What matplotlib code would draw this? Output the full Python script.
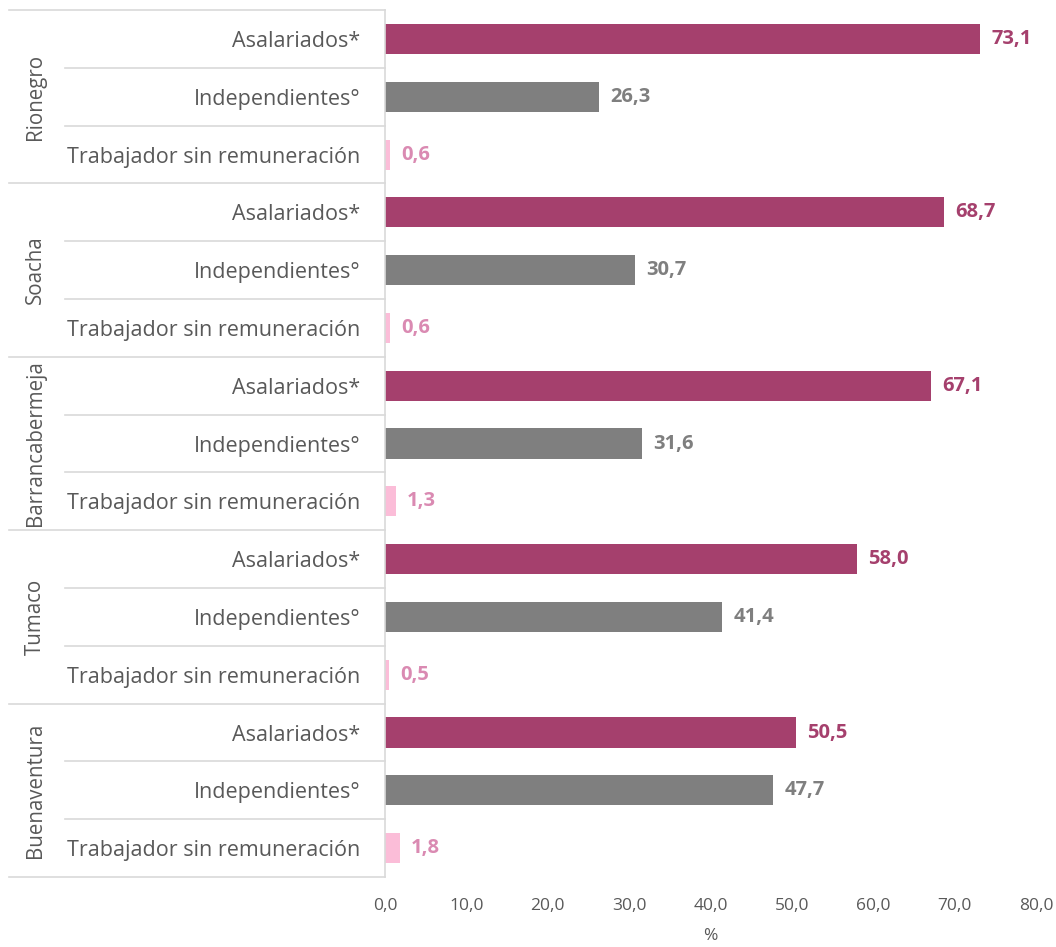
import numpy as np
import matplotlib
matplotlib.use("Agg")
import matplotlib.pyplot as plt
import matplotlib.transforms as mtransforms

plt.rcParams['font.family'] = ['Open Sans', 'DejaVu Sans']

# Datos
ciudades = ["Rionegro", "Soacha", "Barrancabermeja", "Tumaco", "Buenaventura"]
categorias = ["Asalariados*", "Independientes°", "Trabajador sin remuneración"]
asalariados = [73.1, 68.7, 67.1, 58.0, 50.5]
independientes = [26.3, 30.7, 31.6, 41.4, 47.7]
sin_remuneracion = [0.6, 0.6, 1.3, 0.5, 1.8]

colores_barra = ["#A5406D", "#7F7F7F", "#FBBDD8"]
colores_texto = ["#A5406D", "#7F7F7F", "#DA8AB2"]
gris_texto = "#595959"
gris_linea = "#D9D9D9"

series = [asalariados, independientes, sin_remuneracion]

fig = plt.figure(figsize=(10.56, 9.47), dpi=100)
ax = fig.add_axes([0.3646, 0.0739, 0.6165, 0.9155])

n_cat = len(categorias)
etiquetas = []
for i, ciudad in enumerate(ciudades):
    for j in range(n_cat):
        y = i * n_cat + j
        v = series[j][i]
        ax.barh(y, v, height=0.52, color=colores_barra[j])
        ax.text(v + 1.4, y, f"{v:.1f}".replace(".", ","), va="center", ha="left",
                fontsize=14.5, fontweight="bold", color=colores_texto[j])
        etiquetas.append(categorias[j])

total = len(ciudades) * n_cat
ax.set_ylim(total - 0.5, -0.5)
ax.set_xlim(0, 80)
ax.set_yticks(range(total))
ax.set_yticklabels(etiquetas, fontsize=15.5, color=gris_texto)
ax.set_xticks(np.arange(0, 81, 10))
ax.set_xticklabels([f"{t:.1f}".replace(".", ",") for t in np.arange(0, 81, 10)],
                   fontsize=12.5, color=gris_texto)
ax.tick_params(axis="y", length=0, pad=18)
ax.tick_params(axis="x", length=0, pad=15)
ax.set_xlabel("%", fontsize=12.5, color=gris_texto, labelpad=10)

for s in ["top", "right", "bottom"]:
    ax.spines[s].set_visible(False)
ax.spines["left"].set_color(gris_linea)
ax.spines["left"].set_linewidth(1.2)

# lineas separadoras fuera del area
trans = mtransforms.blended_transform_factory(ax.transAxes, ax.transData)
for k in range(total + 1):
    yb = k - 0.5
    x0 = -0.578 if k % n_cat == 0 else -0.4916
    ax.plot([x0, 0], [yb, yb], color=gris_linea, lw=1.2, transform=trans, clip_on=False)

for i, ciudad in enumerate(ciudades):
    yc = i * n_cat + (n_cat - 1) / 2
    ax.text(-0.5376, yc, ciudad, rotation=90, va="center", ha="center",
            fontsize=14.8, color=gris_texto, transform=trans)

fig.savefig("out.png", dpi=100, facecolor="white")
